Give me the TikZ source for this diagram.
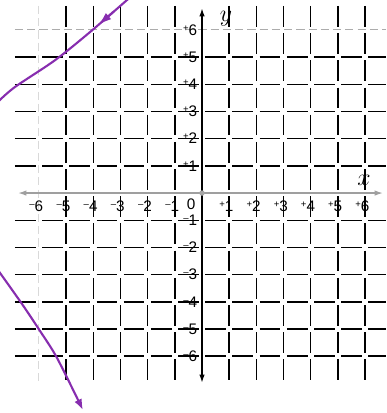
\documentclass[tikz,border=0pt]{standalone}
\usepackage{fontspec}
\setsansfont{Liberation Sans}
\usetikzlibrary{arrows.meta}
\definecolor{penviolet}{RGB}{135,45,175}
\newcommand{\up}{\raisebox{0.5ex}{\fontsize{10}{10}\selectfont+}}
\newcommand{\dn}{\raisebox{0.5ex}{\fontsize{10}{10}\selectfont--}}

\begin{document}
\begin{tikzpicture}[
   grid line/.style = {line width=1.5pt, dash pattern=on 0.76cm off 0.24cm},
  faint line/.style = {gray!65, line width=1pt, dash pattern=on 0.3cm off 0.15cm},
        tick/.style = {font=\sffamily\fontsize{16}{18}\selectfont, inner sep=0pt},
      letter/.style = {font=\fontsize{28}{30}\selectfont, inner sep=0pt},
       curve/.style = {penviolet, line width=2.2pt},
         tip/.style = {-{Latex[length=4mm,width=3mm]}}
                    ]
\fill[white] (-7.43,-8.09) rectangle (6.77,7.10);
\useasboundingbox (-7.43,-8.09) rectangle (6.77,7.10);
\clip (-7.43,-8.09) rectangle (6.77,7.10);
% grid
\foreach \k in {-5,...,-1,1,2,...,6}
  \draw[grid line] (\k,6.88) -- (\k,-7);
\foreach \k in {-6,...,-1,1,2,...,5}
  \draw[grid line] (-6.88,\k) -- (6.77,\k);
\draw[faint line, gray!30] (-6,6.88) -- (-6,-7);
\draw[faint line] (-6.88,6) -- (6.77,6);
% axes
\coordinate (xl) at (-6.76,0);
\coordinate (xr) at (6.65,0);
\coordinate (yt) at (0,6.8);
\coordinate (yb) at (0,-6.98);
\draw[gray!75, line width=1.3pt, {Latex[length=3mm,width=2mm]}-{Latex[length=3mm,width=2mm]}] (xl) -- (xr);
\draw[line width=1.5pt, {Latex[length=3mm,width=2mm]}-{Latex[length=3mm,width=2mm]}] (yb) -- (yt);
\node (o) [circle, fill=gray!70, inner sep=0pt, minimum size=2mm] at (0,0) {};
% labels
\foreach \k in {1,...,6} {
  \node (yp\k) [tick, anchor=east] at (-0.17,\k) {\up\k};
  \node (yn\k) [tick, anchor=east] at (-0.17,-\k) {\dn\k};
  \node (xp\k) [tick] at (\k,-0.5) {\llap{\up}\k};
  \node (xn\k) [tick] at (-\k,-0.5) {\llap{\dn}\k};
}
\node (zero) [tick] at (-0.40,-0.40) {0};
\node (xlab) [letter] at (5.96,0.48) {$x$};
\node (ylab) [letter] at (0.88,6.40) {$y$};
% graph
\draw[curve] plot[smooth] coordinates {(-7.5,3.36) (-6.88,3.90) (-5.40,4.89) (-4.12,5.92) (-2.70,7.15)};
\draw[curve, -{Latex[length=5mm,width=3mm]}] (-3.25,6.67) -- (-3.82,6.18);
\draw[curve, tip] plot[smooth] coordinates {(-7.5,-2.84) (-6.62,-4.08) (-5.96,-5.07) (-5.33,-6.07) (-4.38,-7.98)};
\end{tikzpicture}
\end{document}
